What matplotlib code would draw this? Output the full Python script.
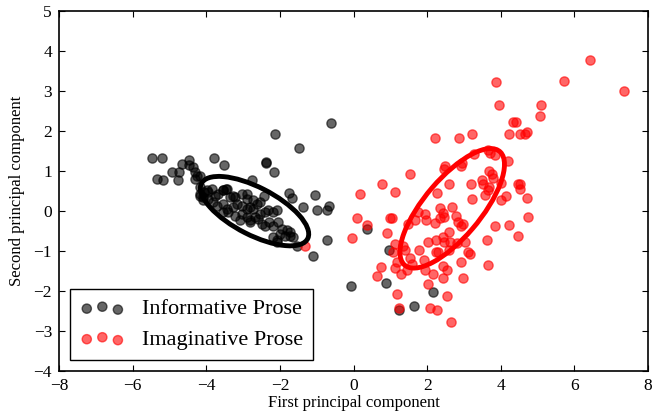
import numpy as np
import matplotlib
matplotlib.use("Agg")
import matplotlib.pyplot as plt
from matplotlib.patches import Ellipse

plt.rcParams['font.family'] = ['Liberation Serif', 'DejaVu Serif']

# Informative Prose (first, second principal component)
info_x = [-0.61, -2.13, -1.49, -5.47, -5.20, -3.78, -3.51, -4.46, -4.46, -4.35,
          -4.67, -4.94, -4.73, -5.35, -5.17, -4.76, -4.31, -4.26, -4.17, -4.31,
          -2.39, -2.37, -2.15, -2.75, -1.74, -1.68, -1.05, -2.90, -2.42, -4.17,
          -4.06, -3.95, -3.54, -3.46, -4.17, -4.08, -3.36, -3.22,
          -4.17, -3.99, -3.85, -3.76, -3.67, -3.54, -3.45,
          -4.08, -3.95, -3.81, -3.72, -3.54, -3.45,
          -3.54, -3.40, -3.27, -3.17, -3.04, -2.90, -2.81, -2.72, -2.63, -2.54,
          -3.22, -3.04, -2.90, -2.81, -2.68,
          -2.54, -2.40, -2.31, -2.18, -2.09,
          -2.49, -2.40, -2.29, -2.18, -2.04, -1.95, -1.82, -1.73,
          -2.18, -2.09, -2.00, -1.86, -1.73, -1.64,
          -2.09, -1.54, -1.09,
          -1.36, -1.00, -0.73, -0.68, -0.73,
          -3.27, -3.04, -2.72, -2.90, -2.59, -3.08, -2.81,
          0.37, 0.96, -0.07, 0.88, 2.16, 1.64, 1.24]
info_y = [2.21, 1.94, 1.59, 1.34, 1.34, 1.33, 1.15, 1.27, 1.16, 1.10,
          1.18, 0.99, 0.98, 0.80, 0.79, 0.79, 0.98, 0.89, 0.89, 0.81,
          1.21, 1.23, 0.99, 0.77, 0.45, 0.33, 0.40, 0.42, 0.38, 0.60,
          0.48, 0.48, 0.53, 0.56, 0.39, 0.35, 0.35, 0.35,
          0.44, 0.52, 0.56, 0.39, 0.44, 0.52, 0.56,
          0.27, 0.31, 0.23, 0.14, 0.19, 0.06,
          -0.02, -0.02, 0.10, 0.19, 0.14, 0.06, 0.10, 0.06, 0.19, 0.23,
          -0.11, -0.07, -0.15, -0.23, -0.15,
          -0.07, -0.02, 0.02, -0.02, 0.02,
          -0.31, -0.36, -0.27, -0.36, -0.27, -0.44, -0.48, -0.52,
          -0.65, -0.73, -0.57, -0.61, -0.61, -0.65,
          -0.77, -0.86, -1.11,
          0.10, 0.03, 0.02, 0.14, -0.73,
          0.39, 0.44, 0.27, 0.31, -0.19, -0.23, -0.27,
          -0.44, -0.96, -1.86, -1.79, -2.01, -2.38, -2.46]

# Imaginative Prose
imag_x = [6.43, 7.35, 5.71, 3.88, 3.96, 5.10, 5.07, 4.34, 4.42, 4.23,
          4.52, 4.66, 4.72, 2.21, 2.86, 3.22, 3.26, 3.66, 3.71, 3.84,
          4.19, 2.49, 2.46, 2.95, 2.93, 1.53, 0.78, 1.13, 0.18, 2.26,
          3.68, 3.76, 3.78, 3.19, 3.48, 3.51, 3.68, 3.66, 3.58, 4.01,
          4.46, 4.53, 4.52, 4.14, 4.71, 3.21, 4.00, 4.75, 4.23, 4.48,
          3.85, 3.62, 3.64, 0.09, -0.03, 0.36, 0.99, 1.04, 0.90, 1.13,
          1.08, 1.17, 1.13, 0.75, 0.65, 1.29, 1.45, 1.52, 1.58, 1.35,
          1.40, 1.78, 1.92, 1.93, 2.01, 2.23, 2.30, 2.23, 2.17, 2.42,
          2.53, 2.44, 2.03, 2.53, 1.17, 1.24, 2.08, 2.26, 2.64, 2.92,
          2.98, 2.58, 2.62, 2.58, 2.80, 3.03, 3.12, 3.17, 2.44, 2.46,
          1.67, 1.49, 1.74, 1.94, 1.97, 2.21, 2.35, 2.44, 2.46, 2.35,
          2.67, 2.78, 2.85, 2.91, 2.97, 2.58, -1.32]
imag_y = [3.77, 3.00, 3.26, 3.24, 2.66, 2.66, 2.38, 2.23, 2.23, 1.94,
          1.94, 1.94, 1.99, 1.83, 1.82, 1.94, 1.43, 1.52, 1.45, 1.41,
          1.26, 1.12, 1.06, 1.21, 1.12, 0.92, 0.68, 0.47, 0.42, 0.46,
          1.00, 0.93, 0.83, 0.68, 0.77, 0.68, 0.60, 0.52, 0.41, 0.70,
          0.67, 0.68, 0.55, 0.38, 0.33, 0.31, 0.27, -0.15, -0.35, -0.62,
          -0.38, -0.73, -1.34, -0.17, -0.68, -0.34, -0.17, -0.17, -0.54, -0.82,
          -1.02, -1.27, -1.41, -1.40, -1.62, -1.57, -1.48, -1.18, -1.33, -0.88,
          -0.98, -0.98, -1.21, -1.46, -0.76, -0.73, -1.02, -1.02, -1.57, -1.67,
          -1.48, -1.36, -1.83, -2.13, -2.07, -2.42, -2.42, -2.47, -2.78, -1.27,
          -1.67, -0.52, -0.77, -0.97, -0.80, -0.77, -1.02, -1.08, -0.65, -0.77,
          -0.22, -0.32, -0.02, -0.07, -0.23, -0.30, 0.08, -0.04, -0.15, -0.17,
          0.10, -0.11, -0.28, -0.36, -0.32, 0.68, -0.86]

# covariance ellipses: centre, full width, full height, angle (deg)
info_ell = (-2.69, 0.0, 3.2, 1.2, -25)
imag_ell = (2.68, 0.07, 3.84, 1.5, 47)

fig = plt.figure(figsize=(6.52, 4.11), dpi=100)
ax = fig.add_axes([0.0905, 0.097, 0.9035, 0.876])

ax.scatter(info_x, info_y, s=44, c='k', edgecolors='k', linewidths=1,
           alpha=0.6, label='Informative Prose', zorder=2)
ax.scatter(imag_x, imag_y, s=44, c='r', edgecolors='r', linewidths=1,
           alpha=0.6, label='Imaginative Prose', zorder=2)

for (cx, cy, w, h, ang), col in [(info_ell, 'k'), (imag_ell, 'r')]:
    ax.add_patch(Ellipse((cx, cy), w, h, angle=ang, fill=False,
                         edgecolor=col, linewidth=3.5, zorder=3))

ax.set_xlim(-8, 8)
ax.set_ylim(-4, 5)
ax.set_xticks(range(-8, 9, 2))
ax.set_yticks(range(-4, 6, 1))
ax.tick_params(direction='in', top=True, right=True, length=4,
               width=0.8, labelsize=12.5, pad=5)
for sp in ax.spines.values():
    sp.set_linewidth(1.2)

ax.set_xlabel('First principal component', fontsize=12, labelpad=1)
ax.set_ylabel('Second principal component', fontsize=12, labelpad=6)

leg = ax.legend(loc='lower left', fontsize=16, scatterpoints=3,
                scatteryoffsets=[0.375, 0.5, 0.3125], fancybox=False,
                edgecolor='k', framealpha=1, borderpad=0.45,
                handlelength=2.0, handletextpad=0.8, labelspacing=0.45)
leg.get_frame().set_linewidth(1.0)

fig.savefig('out.png', dpi=100)
